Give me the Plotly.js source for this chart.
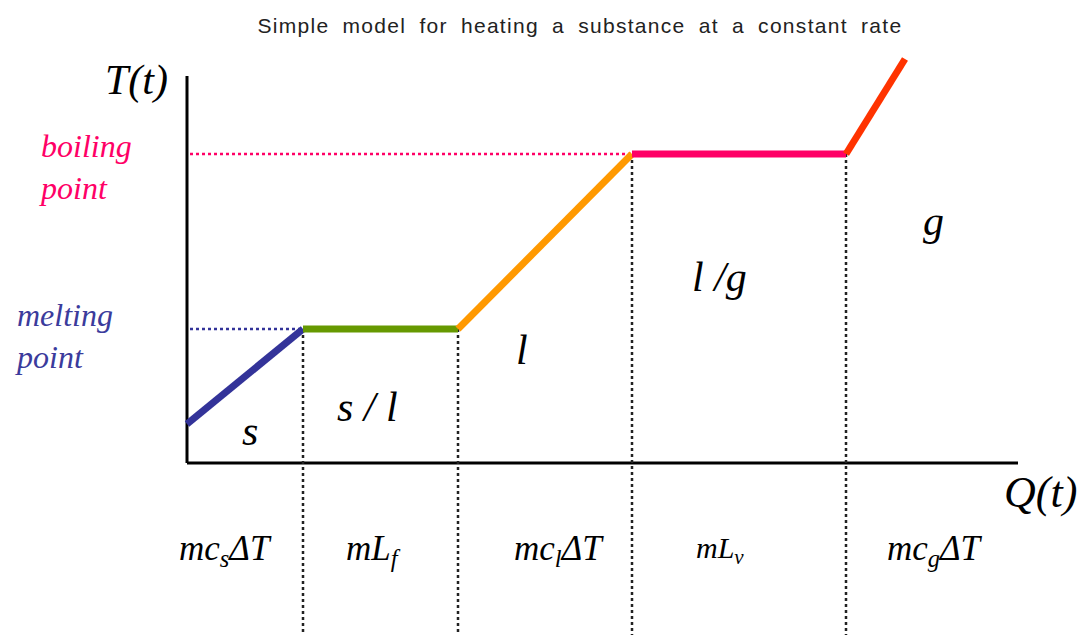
<!DOCTYPE html>
<html>
<head>
<meta charset="utf-8">
<script src="https://cdn.plot.ly/plotly-3.0.1.min.js"></script>
<style>html,body{margin:0;padding:0;background:#fff;}#chart{width:1086px;height:635px;}</style>
</head>
<body>
<div id="chart"></div>
<script>
// ---- data ----
const heatQ = [0, 1.16, 2.71, 4.45, 6.59, 7.18];       // Q(t) breakpoints
const tempT = [0.39, 1.34, 1.34, 3.09, 3.09, 4.04];    // T(t) at breakpoints
const phaseLabels = ['s', 's / l', 'l', 'l /g', 'g'];
const heatLabels = ['mc<sub>s</sub>ΔT', 'mL<sub>f</sub>', 'mc<sub>l</sub>ΔT', 'mL<sub>v</sub>', 'mc<sub>g</sub>ΔT'];
const meltingLabel = 'melting<br>point';
const boilingLabel = 'boiling<br>point';
const yLabel = 'T(t)';
const xLabel = 'Q(t)';
const chartTitle = 'Simple model for heating a substance at a constant rate';

// ---- styles ----
const segColors = ['#333399', '#669900', '#FF9900', '#FF0066', '#FF3300'];
const serif = 'Liberation Serif, Times New Roman, serif';

const traces = [];
for (let i = 0; i < heatQ.length - 1; i++) {
  traces.push({
    x: [heatQ[i], heatQ[i + 1]],
    y: [tempT[i], tempT[i + 1]],
    mode: 'lines', type: 'scatter',
    line: {color: segColors[i], width: 7},
    hoverinfo: 'skip', showlegend: false
  });
}

const yBottom = -1.72;
const dotStyle = (c) => ({color: c, width: 2.5, dash: '3px,3px'});
const shapes = [];
// axis lines
shapes.push({type: 'line', xref: 'x', yref: 'y', x0: 0, x1: 0, y0: 0, y1: 3.87, line: {color: '#000', width: 3}, layer: 'below'});
shapes.push({type: 'line', xref: 'x', yref: 'y', x0: 0, x1: 8.31, y0: 0, y1: 0, line: {color: '#000', width: 3}, layer: 'below'});
// horizontal dotted guides
shapes.push({type: 'line', xref: 'x', yref: 'y', x0: 0.03, x1: heatQ[1], y0: tempT[1], y1: tempT[1], line: dotStyle(segColors[0]), layer: 'below'});
shapes.push({type: 'line', xref: 'x', yref: 'y', x0: 0.03, x1: heatQ[3], y0: tempT[3], y1: tempT[3], line: dotStyle(segColors[3]), layer: 'below'});
// vertical dotted separators
for (let i = 1; i <= 4; i++) {
  shapes.push({type: 'line', xref: 'x', yref: 'y', x0: heatQ[i], x1: heatQ[i], y0: tempT[i], y1: yBottom, line: dotStyle('#222'), layer: 'below'});
}

const ann = [];
function it(s) { return '<i>' + s + '</i>'; }
// phase labels
const phasePos = [[0.63, 0.32], [1.80, 0.56], [3.35, 1.13], [5.32, 1.86], [7.46, 2.42]];
phaseLabels.forEach((t, i) => ann.push({x: phasePos[i][0], y: phasePos[i][1], xref: 'x', yref: 'y', text: it(t), showarrow: false, font: {family: serif, size: 42, color: '#000'}}));
// heat labels below the axis
const heatPos = [0.38, 1.86, 3.72, 5.33, 7.48];
heatLabels.forEach((t, i) => ann.push({x: heatPos[i], y: -0.87, xref: 'x', yref: 'y', text: it(t), showarrow: false, font: {family: serif, size: i === 3 ? 30 : 35, color: '#000'}}));
// axis labels
ann.push({x: -0.51, y: 3.83, xref: 'x', yref: 'y', text: it(yLabel), showarrow: false, font: {family: serif, size: 42, color: '#000'}});
ann.push({x: 8.53, y: -0.29, xref: 'x', yref: 'y', text: it(xLabel), showarrow: false, font: {family: serif, size: 44, color: '#000'}});
// melting / boiling labels
ann.push({x: -1.74, y: tempT[1] - 0.07, xref: 'x', yref: 'y', xanchor: 'left', align: 'left', text: it(meltingLabel), showarrow: false, font: {family: serif, size: 32, color: '#3b3b9c'}});
ann.push({x: -1.50, y: tempT[3] - 0.13, xref: 'x', yref: 'y', xanchor: 'left', align: 'left', text: it(boilingLabel), showarrow: false, font: {family: serif, size: 32, color: '#FF0066'}});

const layout = {
  width: 1086, height: 635,
  margin: {l: 0, r: 0, t: 0, b: 0},
  paper_bgcolor: '#fff', plot_bgcolor: '#fff',
  title: {text: '<span style="letter-spacing:1.3px;word-spacing:6px">' + chartTitle + '</span>', x: 0.534, xanchor: 'center', y: 0.959, yanchor: 'middle', font: {family: 'Liberation Sans, Arial, sans-serif', size: 21, color: '#222'}},
  xaxis: {range: [-1.87, 8.99], visible: false, fixedrange: true},
  yaxis: {range: [yBottom, 4.63], visible: false, fixedrange: true},
  shapes: shapes,
  annotations: ann,
  showlegend: false,
  hovermode: false
};

Plotly.newPlot('chart', traces, layout, {displayModeBar: false, staticPlot: true});
</script>
</body>
</html>
